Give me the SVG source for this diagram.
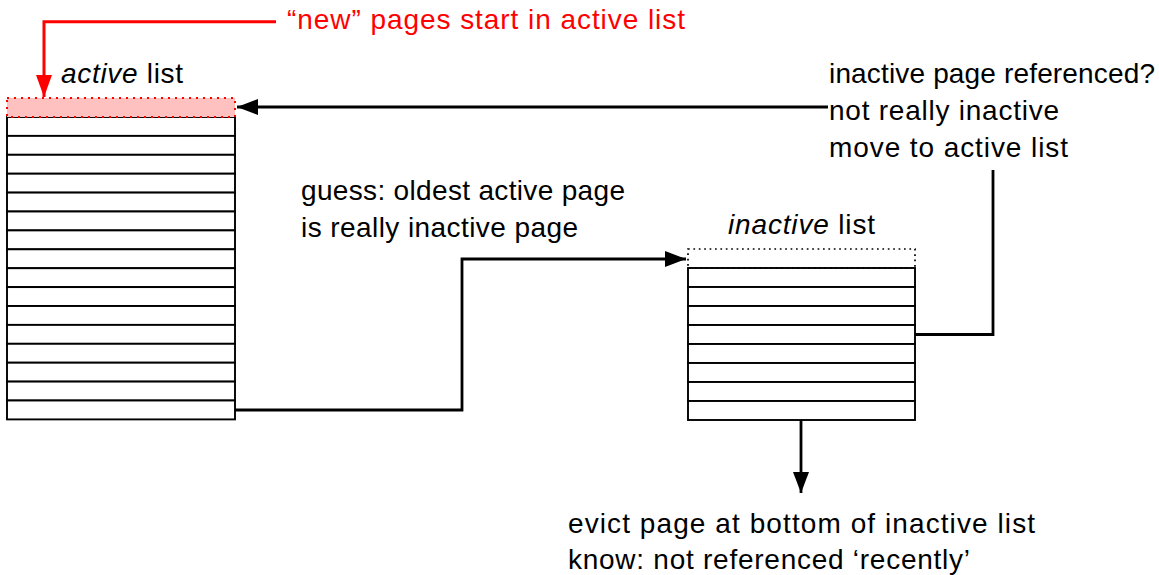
<svg xmlns="http://www.w3.org/2000/svg" width="1159" height="575" viewBox="0 0 1159 575">
<style>
text{font-family:"Liberation Sans",Arial,sans-serif;font-size:28px;fill:#000}
.red{fill:#ff0000}
.row{fill:#fff;stroke:#000;stroke-width:1.9}
.conn{fill:none;stroke:#000;stroke-width:2.8}
.rconn{fill:none;stroke:#ff0000;stroke-width:3}
</style>
<defs>
<marker id="ah" markerUnits="userSpaceOnUse" markerWidth="21" markerHeight="16" refX="21" refY="8" orient="auto">
<path d="M0,0 L21,8 L0,16 Z" fill="#000"/>
</marker>
<marker id="ahr" markerUnits="userSpaceOnUse" markerWidth="22" markerHeight="16" refX="22" refY="8" orient="auto">
<path d="M0,0 L22,8 L0,16 Z" fill="#ff0000"/>
</marker>
</defs>
<g id="active-list">
<rect class="row" x="7" y="117" width="228" height="18.9"/>
<rect class="row" x="7" y="135.9" width="228" height="18.9"/>
<rect class="row" x="7" y="154.8" width="228" height="18.9"/>
<rect class="row" x="7" y="173.7" width="228" height="18.9"/>
<rect class="row" x="7" y="192.6" width="228" height="18.9"/>
<rect class="row" x="7" y="211.5" width="228" height="18.9"/>
<rect class="row" x="7" y="230.4" width="228" height="18.9"/>
<rect class="row" x="7" y="249.3" width="228" height="18.9"/>
<rect class="row" x="7" y="268.2" width="228" height="18.9"/>
<rect class="row" x="7" y="287.1" width="228" height="18.9"/>
<rect class="row" x="7" y="306" width="228" height="18.9"/>
<rect class="row" x="7" y="324.9" width="228" height="18.9"/>
<rect class="row" x="7" y="343.8" width="228" height="18.9"/>
<rect class="row" x="7" y="362.7" width="228" height="18.9"/>
<rect class="row" x="7" y="381.6" width="228" height="18.9"/>
<rect class="row" x="7" y="400.5" width="228" height="18.9"/>
<rect x="7" y="98" width="228" height="19" fill="#ffc0c0" stroke="#ff0000" stroke-width="2" stroke-dasharray="2 5"/>
<text x="61" y="83" textLength="122" lengthAdjust="spacing"><tspan font-style="italic">active</tspan> list</text>
</g>
<g id="inactive-list">
<rect class="row" x="688" y="268" width="227" height="19"/>
<rect class="row" x="688" y="287" width="227" height="19"/>
<rect class="row" x="688" y="306" width="227" height="19"/>
<rect class="row" x="688" y="325" width="227" height="19"/>
<rect class="row" x="688" y="344" width="227" height="19"/>
<rect class="row" x="688" y="363" width="227" height="19"/>
<rect class="row" x="688" y="382" width="227" height="19"/>
<rect class="row" x="688" y="401" width="227" height="19"/>
<rect x="688" y="249" width="227" height="19" fill="none" stroke="#000" stroke-width="1.7" stroke-dasharray="1.7 3.7"/>
<text x="728" y="234" textLength="147" lengthAdjust="spacing"><tspan font-style="italic">inactive</tspan> list</text>
</g>
<g id="new-pages-note">
<text class="red" x="287" y="29" textLength="398" lengthAdjust="spacing">“new” pages start in active list</text>
</g>
<g id="referenced-note">
<text x="829" y="83" textLength="326" lengthAdjust="spacing">inactive page referenced?</text>
<text x="829" y="120" textLength="230" lengthAdjust="spacing">not really inactive</text>
<text x="829" y="157" textLength="239" lengthAdjust="spacing">move to active list</text>
</g>
<g id="guess-note">
<text x="301" y="200" textLength="324" lengthAdjust="spacing">guess: oldest active page</text>
<text x="301" y="237" textLength="277" lengthAdjust="spacing">is really inactive page</text>
</g>
<g id="evict-note">
<text x="568" y="533" textLength="467" lengthAdjust="spacing">evict page at bottom of inactive list</text>
<text x="568" y="569" textLength="402" lengthAdjust="spacing">know: not referenced ‘recently’</text>
</g>
<g id="connectors">
<path class="rconn" d="M276,21.7 H44 V97" marker-end="url(#ahr)"/>
<path class="conn" d="M828,107 H237" marker-end="url(#ah)"/>
<path class="conn" d="M235,410 H462 V259 H686" marker-end="url(#ah)"/>
<path class="conn" d="M915,334.5 H993 V170"/>
<path class="conn" d="M801,420 V493" marker-end="url(#ah)"/>
</g>
</svg>
